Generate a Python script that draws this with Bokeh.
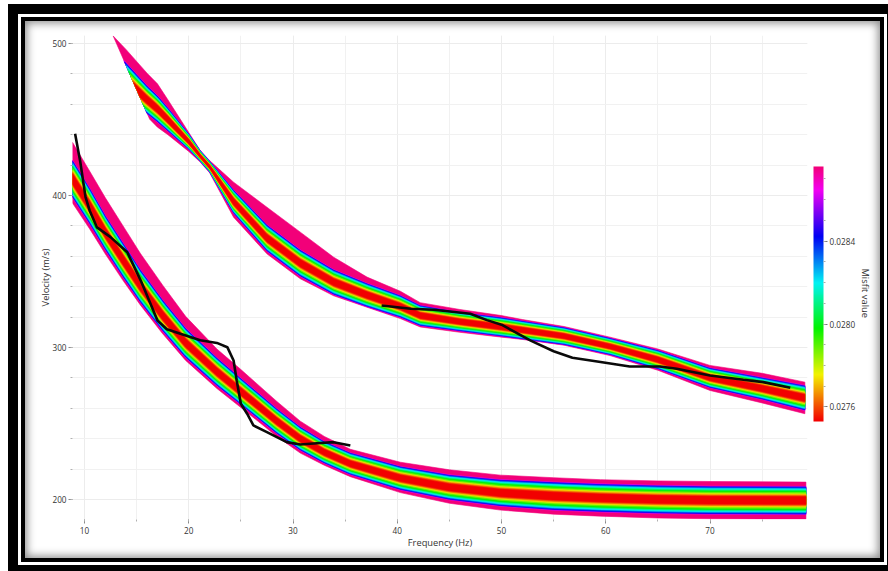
import colorsys
import numpy as np
from bokeh.plotting import figure
from bokeh.models import (ColumnDataSource, LinearColorMapper, ColorBar, SingleIntervalTicker,
                          PrintfTickFormatter, Title, Range1d)
from bokeh.embed import file_html
from bokeh.resources import INLINE

# ---------------- data ----------------
# Upper (higher) mode: band of modelled dispersion curves
UP_F    = [12.75, 14.0, 16.0, 17.0, 18.0, 20.0, 21.1, 22.0, 24.3, 27.5, 30.7, 33.9, 37.1, 40.3, 42.2, 46.0, 50.0, 52.0, 56.0, 60.4, 65.0, 70.0, 75.0, 79.1]
UP_TOP  = [505.0, 496.0, 480.5, 473.5, 463.0, 441.5, 429.6, 423.0, 408.8, 392.3, 375.9, 359.4, 346.3, 337.0, 329.5, 325.0, 321.0, 318.4, 313.8, 306.8, 299.0, 288.2, 283.0, 277.2]
UP_BOT  = [462.0, 458.0, 452.0, 445.0, 440.0, 429.0, 422.0, 415.0, 385.7, 361.6, 345.2, 334.0, 326.5, 319.0, 313.5, 310.0, 306.8, 305.3, 301.5, 294.7, 285.0, 271.7, 263.5, 256.4]
UP_MID  = [484.0, 476.0, 463.0, 457.0, 450.0, 435.5, 426.0, 419.0, 396.0, 372.0, 355.5, 343.0, 334.5, 327.0, 321.0, 317.0, 313.5, 311.5, 307.5, 300.7, 292.0, 280.0, 273.0, 266.8]
UP_CORE = [12.0, 11.0, 9.0, 8.5, 7.5, 5.0, 3.5, 3.5, 7.5, 8.5, 8.5, 8.0, 7.5, 7.0, 6.5, 6.0, 6.0, 5.8, 5.5, 5.3, 6.0, 6.3, 7.0, 8.0]
# ragged start of the upper-mode curves (frequency, velocity at both ends of the start line)
UP_START_F = [12.75, 16.3]
UP_START_V = [505.0, 449.5]

# Lower (fundamental) mode band
LO_F    = [8.85, 10.5, 12.0, 13.7, 15.35, 17.5, 19.7, 22.7, 25.0, 28.45, 30.7, 33.0, 35.5, 40.3, 45.0, 49.9, 55.0, 59.5, 65.0, 70.0, 75.0, 79.2]
LO_TOP  = [435.0, 416.0, 398.5, 380.0, 362.0, 341.0, 320.5, 299.0, 285.5, 264.5, 251.5, 241.5, 233.0, 224.5, 219.5, 216.0, 214.3, 213.0, 212.2, 211.8, 211.6, 211.4]
LO_BOT  = [395.0, 378.0, 361.5, 344.0, 328.0, 309.0, 291.5, 273.0, 260.5, 241.5, 230.5, 222.5, 215.0, 204.5, 197.5, 193.0, 190.3, 189.0, 187.8, 187.3, 187.2, 187.2]
LO_MID  = [411.0, 393.0, 375.5, 357.5, 340.5, 321.0, 303.0, 284.0, 271.0, 251.5, 240.0, 231.0, 223.5, 214.0, 208.0, 204.3, 202.2, 201.0, 200.0, 199.5, 199.4, 199.3]
LO_CORE = [12.0, 11.5, 11.0, 11.0, 10.5, 10.0, 9.5, 9.0, 8.5, 8.0, 7.5, 7.0, 7.0, 7.5, 8.0, 8.5, 9.0, 9.0, 9.0, 9.0, 9.0, 9.0]

# misfit of the outermost curves and of the nested curve families (relative spread in the core)
EDGE_MISFIT  = 0.02876
LEVEL_MISFIT = [0.02865, 0.02854, 0.02842, 0.02831, 0.02820, 0.02809, 0.02798, 0.02787, 0.02775, 0.02770, 0.02764, 0.02759, 0.02753]
LEVEL_FRAC   = [1.03, 1.00, 0.97, 0.91, 0.84, 0.76, 0.68, 0.58, 0.48, 0.43, 0.38, 0.33, 0.28]
MISFIT_LOW, MISFIT_HIGH = 0.02753, 0.02876

# Observed (experimental) dispersion curves
OBS_LO_F = [9.1, 9.6, 10.1, 10.5, 11.2, 12.5, 14.1, 15.4, 17.0, 17.9, 19.2, 21.1, 22.7, 23.7, 24.3, 24.6, 25.0, 25.6, 26.2, 27.5, 29.4, 30.7, 32.3, 33.9, 35.5]
OBS_LO_V = [440.6, 422.0, 399.0, 390.0, 379.0, 372.6, 362.7, 344.0, 317.8, 312.0, 309.0, 304.8, 303.0, 300.2, 291.4, 278.3, 263.0, 256.4, 248.7, 244.3, 237.7, 236.2, 237.0, 237.7, 235.5]
OBS_UP_F = [38.5, 41.3, 43.5, 47.0, 48.6, 50.0, 52.8, 55.0, 56.8, 59.5, 62.3, 65.2, 66.8, 70.0, 73.2, 75.1, 77.7]
OBS_UP_V = [327.6, 325.5, 324.8, 322.2, 318.0, 315.0, 304.5, 297.5, 293.2, 290.5, 287.5, 287.5, 286.0, 281.6, 278.8, 277.2, 273.5]

X_TICK_STEP, Y_TICK_STEP, CBAR_TICK_STEP = 10, 100, 0.0004

# ---------------- styling helpers ----------------
def hsv_hex(h, s=1.0, v=0.95):
    r, g, b = colorsys.hsv_to_rgb(h, s, v)
    return "#%02x%02x%02x" % (int(r * 255 + .5), int(g * 255 + .5), int(b * 255 + .5))

PALETTE = [hsv_hex((330.0 / 360.0) * i / 255.0) for i in range(256)]
mapper = LinearColorMapper(palette=PALETTE, low=MISFIT_LOW, high=MISFIT_HIGH)


def clip_start(f, v, start):
    f = np.asarray(f, float)
    v = np.asarray(v, float)
    if start is None:
        return f, v
    (f0, f1), (v0, v1) = start
    lv = v0 + (v1 - v0) / (f1 - f0) * (f - f0)
    d = v - lv
    keep = d >= -1e-9
    idx = int(np.argmax(keep))
    if idx > 0:
        t = d[idx - 1] / (d[idx - 1] - d[idx])
        fi = f[idx - 1] + t * (f[idx] - f[idx - 1])
        vi = v[idx - 1] + t * (v[idx] - v[idx - 1])
        return np.r_[fi, f[idx:]], np.r_[vi, v[idx:]]
    return f, v


def band_source(F, TOP, BOT, MID, CORE, start=None):
    MID = np.asarray(MID, float)
    CORE = np.asarray(CORE, float)
    levels = [(np.asarray(TOP, float), np.asarray(BOT, float), EDGE_MISFIT)]
    for m, fr in zip(LEVEL_MISFIT, LEVEL_FRAC):
        levels.append((MID + fr * CORE, MID - fr * CORE, m))
    xs, ys, ms = [], [], []
    for up, lo, m in levels:
        fu, vu = clip_start(F, up, start)
        fl, vl = clip_start(F, lo, start)
        xs.append(list(fu) + list(fl[::-1]))
        ys.append(list(vu) + list(vl[::-1]))
        ms.append(m)
    return ColumnDataSource(dict(xs=xs, ys=ys, misfit=ms))


FONT = "Open Sans"
TXT = "#333333"

p = figure(width=855, height=537,
           x_range=Range1d(8.85, 79.35), y_range=Range1d(186.8, 505.3),
           output_backend="svg", toolbar_location=None,
           min_border_left=47, min_border_right=73, min_border_top=14, min_border_bottom=39,
           background_fill_color=None, border_fill_color=None, outline_line_color=None)
p.styles = {"margin-left": "25px", "margin-top": "21px", "background-color": "#ffffff",
            "box-shadow": "inset 0 0 9px 2px rgba(0,0,0,0.45), 0 0 0 4px #000000, 0 0 0 7px #ffffff, 0 0 0 17px #000000"}

# axes
p.xaxis.ticker = SingleIntervalTicker(interval=X_TICK_STEP, num_minor_ticks=2)
p.yaxis.ticker = SingleIntervalTicker(interval=Y_TICK_STEP, num_minor_ticks=5)
p.xaxis.axis_label = "Frequency (Hz)"
p.yaxis.axis_label = "Velocity (m/s)"
for ax in (p.xaxis, p.yaxis):
    ax.axis_line_color = None
    ax.major_tick_line_color = "#8a8a8a"
    ax.minor_tick_line_color = "#b0b0b0"
    ax.major_tick_out = 4
    ax.major_tick_in = 0
    ax.minor_tick_out = 2
    ax.minor_tick_in = 0
    ax.major_label_text_font = FONT
    ax.major_label_text_font_size = "8.2px"
    ax.major_label_text_color = TXT
    ax.axis_label_text_font = FONT
    ax.axis_label_text_font_size = "9.3px"
    ax.axis_label_text_font_style = "normal"
    ax.axis_label_text_color = TXT
p.xaxis.major_label_standoff = 3
p.xaxis.axis_label_standoff = -1
p.yaxis.major_label_standoff = 2
p.yaxis.axis_label_standoff = -3

for g in (p.xgrid, p.ygrid):
    g.grid_line_color = "#ececec"
    g.minor_grid_line_color = "#f1f1f1"

# bands of modelled curves
src_up = band_source(UP_F, UP_TOP, UP_BOT, UP_MID, UP_CORE, start=(UP_START_F, UP_START_V))
src_lo = band_source(LO_F, LO_TOP, LO_BOT, LO_MID, LO_CORE)
for src in (src_up, src_lo):
    p.patches("xs", "ys", source=src,
              fill_color={"field": "misfit", "transform": mapper},
              line_color={"field": "misfit", "transform": mapper}, line_width=0.6)

# observed curves
p.line(OBS_LO_F, OBS_LO_V, line_color="#0a0a0a", line_width=2.6)
p.line(OBS_UP_F, OBS_UP_V, line_color="#0a0a0a", line_width=2.6)

# colour bar
cbar = ColorBar(color_mapper=mapper, width=10, height=255, location=(6, 98),
                margin=0, padding=0,
                ticker=SingleIntervalTicker(interval=CBAR_TICK_STEP, num_minor_ticks=4),
                formatter=PrintfTickFormatter(format="%.4f"),
                major_label_text_font=FONT, major_label_text_font_size="8.2px",
                major_label_text_color=TXT, label_standoff=2,
                major_tick_out=4, major_tick_in=0, major_tick_line_color="#777777",
                minor_tick_out=2, minor_tick_in=0, minor_tick_line_color="#aaaaaa",
                bar_line_color=None, border_line_color=None, background_fill_color=None)
p.add_layout(cbar, "right")
p.add_layout(Title(text="Misfit value", align="left", offset=233, standoff=0,
                   text_font=FONT, text_font_size="9.3px", text_font_style="normal",
                   text_color=TXT), "right")

open("out.html", "w").write(file_html(p, INLINE))
